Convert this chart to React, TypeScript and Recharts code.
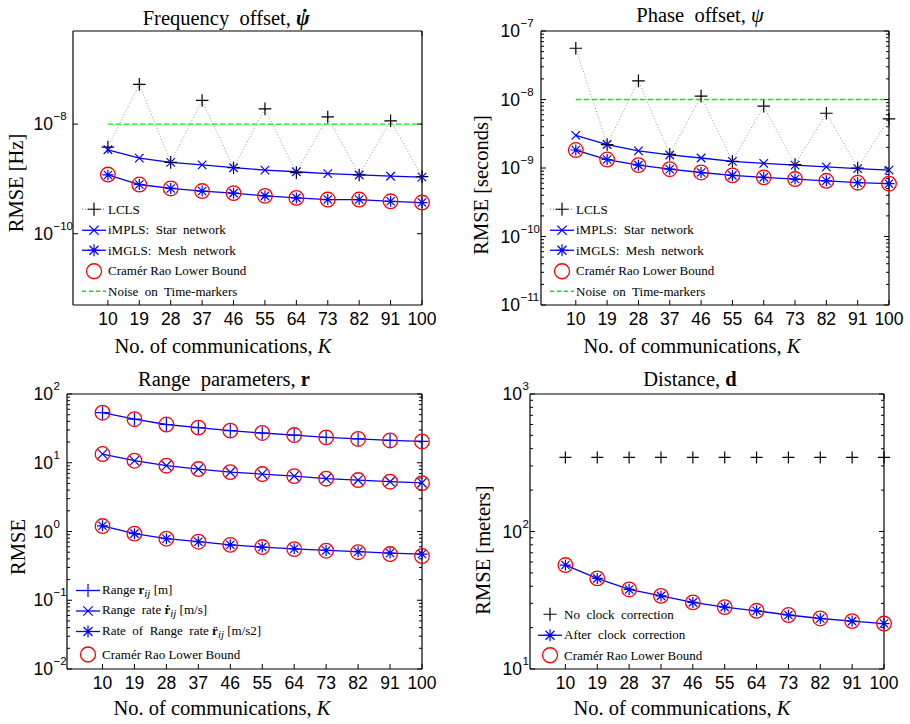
import React from 'react';
import { ComposedChart, Line, XAxis, YAxis, Legend } from 'recharts';

const serif = '"Liberation Serif", "Times New Roman", serif';
const sans = '"Liberation Sans", Arial, sans-serif';

// x categories: number of communications K
const K = [10, 19, 28, 37, 46, 55, 64, 73, 82, 91, 100];

// Frequency offset
const freqLCLS = [3.8e-9, 5.3e-8, 2.0e-9, 2.7e-8, 1.6e-9, 1.9e-8, 1.3e-9, 1.35e-8, 1.18e-9, 1.15e-8, 1.1e-9];
const freqStar = [3.4e-9, 2.4e-9, 2.0e-9, 1.8e-9, 1.6e-9, 1.45e-9, 1.35e-9, 1.25e-9, 1.18e-9, 1.12e-9, 1.08e-9];
const freqMesh = [1.18e-9, 7.9e-10, 6.7e-10, 6.0e-10, 5.5e-10, 4.9e-10, 4.5e-10, 4.2e-10, 4.2e-10, 3.9e-10, 3.7e-10];
const freqCRLB = [1.2e-9, 7.9e-10, 6.7e-10, 6.0e-10, 5.5e-10, 4.9e-10, 4.5e-10, 4.2e-10, 4.2e-10, 3.9e-10, 3.7e-10];
const freqNoise = [1e-8, 1e-8, 1e-8, 1e-8, 1e-8, 1e-8, 1e-8, 1e-8, 1e-8, 1e-8, 1e-8];

// Phase offset
const phaseLCLS = [5.6e-8, 2.2e-9, 1.87e-8, 1.58e-9, 1.12e-8, 1.25e-9, 8.0e-9, 1.12e-9, 6.3e-9, 1.0e-9, 5.2e-9];
const phaseStar = [3.0e-9, 2.2e-9, 1.78e-9, 1.55e-9, 1.4e-9, 1.25e-9, 1.17e-9, 1.1e-9, 1.04e-9, 9.8e-10, 9.3e-10];
const phaseMesh = [1.83e-9, 1.33e-9, 1.1e-9, 9.6e-10, 8.6e-10, 7.8e-10, 7.3e-10, 6.9e-10, 6.5e-10, 6.1e-10, 5.9e-10];
const phaseCRLB = [1.83e-9, 1.33e-9, 1.1e-9, 9.6e-10, 8.6e-10, 7.8e-10, 7.3e-10, 6.9e-10, 6.5e-10, 6.1e-10, 5.9e-10];
const phaseNoise = [1e-8, 1e-8, 1e-8, 1e-8, 1e-8, 1e-8, 1e-8, 1e-8, 1e-8, 1e-8, 1e-8];

// Range parameters
const rangeR = [53.5, 43, 36, 32.4, 29.3, 27.1, 25.3, 23.4, 22.2, 21.1, 20.4];
const rangeRdot = [13.4, 10.7, 9.06, 8.1, 7.3, 6.85, 6.4, 5.86, 5.6, 5.3, 5.1];
const rangeRddot = [1.21, 0.93, 0.785, 0.71, 0.64, 0.594, 0.56, 0.53, 0.508, 0.486, 0.47];
const crlbR = [53.5, 43, 36, 32.4, 29.3, 27.1, 25.3, 23.4, 22.2, 21.1, 20.4];
const crlbRdot = [13.4, 10.7, 9.06, 8.1, 7.3, 6.85, 6.4, 5.86, 5.6, 5.3, 5.05];
const crlbRddot = [1.2, 0.93, 0.785, 0.71, 0.64, 0.594, 0.555, 0.525, 0.5, 0.47, 0.44];

// Distance
const distNoCorr = [346, 346, 346, 346, 346, 346, 346, 346, 346, 346, 346];
const distAfter = [57, 45.6, 37.9, 34, 30.5, 28.2, 26.5, 24.7, 23.3, 22.3, 21.4];
const distCRLB = [57, 45.6, 37.9, 34, 30.5, 28.2, 26.5, 24.7, 23.3, 22.3, 21.4];

// y tick values
const freqTicks = [1e-10, 1e-8];
const phaseTicks = [1e-11, 1e-10, 1e-9, 1e-8, 1e-7];
const rangeTicks = [1e-2, 1e-1, 1, 10, 100];
const distTicks = [10, 100, 1000];

const minorOf = (majors: number[]) =>
  majors.slice(0, -1).flatMap((m) => [2, 3, 4, 5, 6, 7, 8, 9].map((f) => m * f));

const BLUE = '#0000ff';
const RED = '#ff0000';
const BLACK = '#000000';
const GRAY = '#999999';
const GREEN = '#00ee00';

type GlyphKind = 'plus' | 'x' | 'star' | 'circle';

function Glyph({ kind, cx, cy, color, s }: { kind: GlyphKind; cx: number; cy: number; color: string; s: number }) {
  const sw = 1.2;
  if (kind === 'circle') return <circle cx={cx} cy={cy} r={s} stroke={color} strokeWidth={1.3} fill="none" />;
  const d = s * 0.75;
  const plus = `M${cx - s},${cy}H${cx + s}M${cx},${cy - s}V${cy + s}`;
  const cross = `M${cx - d},${cy - d}L${cx + d},${cy + d}M${cx - d},${cy + d}L${cx + d},${cy - d}`;
  const path = kind === 'plus' ? plus : kind === 'x' ? `M${cx - s * 0.85},${cy - s * 0.85}L${cx + s * 0.85},${cy + s * 0.85}M${cx - s * 0.85},${cy + s * 0.85}L${cx + s * 0.85},${cy - s * 0.85}` : plus + cross;
  return <path d={path} stroke={color} strokeWidth={sw} fill="none" />;
}

type Series = {
  key: string;
  values: number[];
  stroke: string;
  dash?: string;
  width?: number;
  glyph?: GlyphKind;
  glyphColor?: string;
  size?: number;
};

type LegendItem = {
  label: React.ReactNode;
  stroke?: string;
  dash?: string;
  glyph?: GlyphKind;
  glyphColor?: string;
  size?: number;
  h: number;
};

type PanelCfg = {
  left: number;
  top: number;
  margin: { top: number; right: number; bottom: number; left: number };
  yWidth: number;
  domain: [number, number];
  majors: number[];
  minors: number[];
  baseGap: number;
  series: Series[];
  legend: LegendItem[];
  legendPos: { left: number; top: number };
  title: () => React.ReactNode;
  yLabel: string;
  yLabelPos: [number, number];
  xLabelPos: [number, number];
};

const titleProps = { fontFamily: serif, fontSize: 20.5, fill: BLACK, style: { whiteSpace: 'pre' as const } };

const XLabelText = () => (
  <>
    No. of communications, <tspan fontStyle="italic">K</tspan>
  </>
);

function LegendBox({ items }: { items: LegendItem[] }) {
  return (
    <div style={{ fontFamily: serif, fontSize: 13, color: '#000', lineHeight: 1 }}>
      {items.map((it, i) => (
        <div key={i} style={{ display: 'flex', alignItems: 'center', height: it.h, whiteSpace: 'pre' }}>
          <svg width={28} height={it.h} style={{ display: 'block', flex: 'none' }}>
            {it.stroke && (
              <line x1={2} x2={26} y1={it.h / 2} y2={it.h / 2} stroke={it.stroke} strokeWidth={1.3} strokeDasharray={it.dash} />
            )}
            {it.glyph && <Glyph kind={it.glyph} cx={14} cy={it.h / 2} color={it.glyphColor || BLUE} s={it.size || 6} />}
          </svg>
          <span>{it.label}</span>
        </div>
      ))}
    </div>
  );
}

function Panel({ cfg }: { cfg: PanelCfg }) {
  const rows = K.map((k, i) => {
    const r: any = { k };
    cfg.series.forEach((s) => {
      r[s.key] = s.values[i];
    });
    return r;
  });
  const yTicks = [...cfg.majors, ...cfg.minors];
  const isMajor = (v: number) => cfg.majors.includes(v);
  const expOf = (v: number) => {
    const e = Math.round(Math.log10(v));
    return e < 0 ? '\u2212' + -e : String(e);
  };

  const leftTick = (p: any) => {
    const { x, y, payload } = p;
    const v = payload.value;
    const maj = isMajor(v);
    return (
      <g>
        <line x1={x} x2={x + (maj ? 5 : 3)} y1={y} y2={y} stroke={BLACK} strokeWidth={1} />
        {maj && (
          <text fontFamily={sans} fill={BLACK}>
            <tspan x={x - cfg.baseGap} y={y + 6} textAnchor="end" fontSize={17.5}>
              10
            </tspan>
            <tspan x={x - cfg.baseGap + 0.5} y={y - 4} fontSize={11.5}>
              {expOf(v)}
            </tspan>
          </text>
        )}
      </g>
    );
  };
  const rightTick = (p: any) => {
    const { x, y, payload } = p;
    const maj = isMajor(payload.value);
    return <line x1={x} x2={x - (maj ? 5 : 3)} y1={y} y2={y} stroke={BLACK} strokeWidth={1} />;
  };
  const bottomTick = (p: any) => {
    const { x, y, payload } = p;
    return (
      <g>
        <line x1={x} x2={x} y1={y} y2={y - 5} stroke={BLACK} strokeWidth={1} />
        <text x={x} y={y + 20} textAnchor="middle" fontFamily={sans} fontSize={17.5} fill={BLACK}>
          {payload.value}
        </text>
      </g>
    );
  };
  const topTick = (p: any) => {
    const { x, y } = p;
    return <line x1={x} x2={x} y1={y} y2={y + 5} stroke={BLACK} strokeWidth={1} />;
  };

  const axisLine = { stroke: BLACK, strokeWidth: 1.2 };
  const m = cfg.margin;

  return (
    <div style={{ position: 'absolute', left: cfg.left, top: cfg.top }}>
      <ComposedChart
        width={455}
        height={362}
        data={rows}
        margin={{ top: m.top - 1, right: m.right - 1, bottom: m.bottom - 1, left: m.left }}
      >
        <XAxis
          dataKey="k"
          type="number"
          domain={[0, 100]}
          ticks={K}
          interval={0}
          height={1}
          tickSize={0}
          tickMargin={0}
          tickLine={false}
          axisLine={axisLine}
          tick={bottomTick}
          label={{
            content: () => (
              <text
                x={cfg.xLabelPos[0]}
                y={cfg.xLabelPos[1]}
                textAnchor="middle"
                fontFamily={serif}
                fontSize={20.5}
                fill={BLACK}
              >
                <XLabelText />
              </text>
            ),
          }}
        />
        <XAxis
          xAxisId="t"
          orientation="top"
          type="number"
          domain={[0, 100]}
          ticks={K}
          interval={0}
          height={1}
          tickSize={0}
          tickMargin={0}
          tickLine={false}
          axisLine={axisLine}
          tick={topTick}
          label={{ content: () => <g>{cfg.title()}</g> }}
        />
        <YAxis
          type="number"
          scale="log"
          domain={cfg.domain}
          allowDataOverflow
          ticks={yTicks}
          interval={0}
          width={cfg.yWidth}
          tickSize={0}
          tickMargin={0}
          tickLine={false}
          axisLine={axisLine}
          tick={leftTick}
          label={{
            content: () => (
              <text
                transform={`translate(${cfg.yLabelPos[0]},${cfg.yLabelPos[1]}) rotate(-90)`}
                textAnchor="middle"
                fontFamily={serif}
                fontSize={20.5}
                fill={BLACK}
                style={{ whiteSpace: 'pre' }}
              >
                {cfg.yLabel}
              </text>
            ),
          }}
        />
        <YAxis
          yAxisId="r"
          orientation="right"
          type="number"
          scale="log"
          domain={cfg.domain}
          allowDataOverflow
          ticks={yTicks}
          interval={0}
          width={1}
          tickSize={0}
          tickMargin={0}
          tickLine={false}
          axisLine={axisLine}
          tick={rightTick}
        />
        {cfg.series.map((s) => (
          <Line
            key={s.key}
            dataKey={s.key}
            type="linear"
            stroke={s.stroke}
            strokeWidth={s.width ?? 1.3}
            strokeDasharray={s.dash}
            isAnimationActive={false}
            activeDot={false}
            dot={(p: any) =>
              s.glyph && p.cx != null && p.cy != null ? (
                <Glyph key={`${s.key}-${p.index}`} kind={s.glyph} cx={p.cx} cy={p.cy} color={s.glyphColor || s.stroke} s={s.size || 6} />
              ) : (
                <g key={`${s.key}-${p.index}`} />
              )
            }
          />
        ))}
        <Legend
          layout="vertical"
          align="center"
          verticalAlign="middle"
          wrapperStyle={{ left: cfg.legendPos.left, top: cfg.legendPos.top, width: 240 }}
          content={() => <LegendBox items={cfg.legend} />}
        />
      </ComposedChart>
    </div>
  );
}

const lclsLegend = (h: number): LegendItem => ({ label: 'LCLS', stroke: GRAY, dash: '1 2', glyph: 'plus', glyphColor: BLACK, size: 6.5, h });
const clockLegend = (h: number): LegendItem[] => [
  lclsLegend(h),
  { label: 'iMPLS:  Star  network', stroke: BLUE, glyph: 'x', glyphColor: BLUE, size: 5.5, h },
  { label: 'iMGLS:  Mesh  network', stroke: BLUE, glyph: 'star', glyphColor: BLUE, size: 6, h },
  { label: 'Cramér Rao Lower Bound', glyph: 'circle', glyphColor: RED, size: 7.5, h },
  { label: 'Noise  on  Time-markers', stroke: GREEN, dash: '4 3', h },
];

const ij = (
  <sub style={{ fontStyle: 'italic', fontSize: 11, verticalAlign: '-3px' }}>ij</sub>
);

const panels: PanelCfg[] = [
  {
    left: 0,
    top: 0,
    margin: { top: 31, right: 33, bottom: 57, left: 0 },
    yWidth: 73,
    domain: [5e-12, 5e-7],
    majors: freqTicks,
    minors: [],
    baseGap: 20,
    series: [
      { key: 'lcls', values: freqLCLS, stroke: GRAY, dash: '1 2', width: 1, glyph: 'plus', glyphColor: BLACK, size: 6.3 },
      { key: 'noise', values: freqNoise, stroke: GREEN, dash: '5 3', width: 1.3 },
      { key: 'star', values: freqStar, stroke: BLUE, glyph: 'x', size: 5 },
      { key: 'crlb', values: freqCRLB, stroke: 'none', glyph: 'circle', glyphColor: RED, size: 7.3 },
      { key: 'mesh', values: freqMesh, stroke: BLUE, glyph: 'star', size: 5.5 },
    ],
    legend: clockLegend(20.5),
    legendPos: { left: 80, top: 199 },
    // psi with an overdot (time derivative)
    title: () => (
      <>
        <text x={296} y={25} textAnchor="end" {...titleProps}>
          {'Frequency  offset, '}
        </text>
        <text x={296} y={25} fontStyle="italic" fontWeight="bold" {...titleProps}>
          ψ
        </text>
        <circle cx={305} cy={10.5} r={1.7} fill={BLACK} />
      </>
    ),
    yLabel: 'RMSE [Hz]',
    yLabelPos: [23, 183],
    xLabelPos: [223, 353],
  },
  {
    left: 455,
    top: 0,
    margin: { top: 31, right: 21, bottom: 57, left: 0 },
    yWidth: 86,
    domain: [1e-11, 1e-7],
    majors: phaseTicks,
    minors: minorOf(phaseTicks),
    baseGap: 21,
    series: [
      { key: 'lcls', values: phaseLCLS, stroke: GRAY, dash: '1 2', width: 1, glyph: 'plus', glyphColor: BLACK, size: 6.3 },
      { key: 'noise', values: phaseNoise, stroke: GREEN, dash: '5 3', width: 1.3 },
      { key: 'star', values: phaseStar, stroke: BLUE, glyph: 'x', size: 5 },
      { key: 'crlb', values: phaseCRLB, stroke: 'none', glyph: 'circle', glyphColor: RED, size: 7.3 },
      { key: 'mesh', values: phaseMesh, stroke: BLUE, glyph: 'star', size: 5.5 },
    ],
    legend: clockLegend(20.5),
    legendPos: { left: 93, top: 199 },
    title: () => (
      <text x={245} y={22} textAnchor="middle" {...titleProps}>
        {'Phase  offset, '}
        <tspan fontStyle="italic">ψ</tspan>
      </text>
    ),
    yLabel: 'RMSE [seconds]',
    yLabelPos: [33, 185],
    xLabelPos: [237, 353],
  },
  {
    left: 0,
    top: 362,
    margin: { top: 32, right: 33, bottom: 55, left: 0 },
    yWidth: 67,
    domain: [1e-2, 1e2],
    majors: rangeTicks,
    minors: minorOf(rangeTicks),
    baseGap: 14,
    series: [
      { key: 'r', values: rangeR, stroke: BLUE, glyph: 'plus', size: 6.5 },
      { key: 'rd', values: rangeRdot, stroke: BLUE, glyph: 'x', size: 5.5 },
      { key: 'rdd', values: rangeRddot, stroke: BLUE, glyph: 'star', size: 5.5 },
      { key: 'c1', values: crlbR, stroke: 'none', glyph: 'circle', glyphColor: RED, size: 7.3 },
      { key: 'c2', values: crlbRdot, stroke: 'none', glyph: 'circle', glyphColor: RED, size: 7.3 },
      { key: 'c3', values: crlbRddot, stroke: 'none', glyph: 'circle', glyphColor: RED, size: 7.3 },
    ],
    legend: [
      {
        label: (
          <>
            {'Range '}
            <b>r</b>
            {ij}
            {' [m]'}
          </>
        ),
        stroke: BLUE,
        glyph: 'plus',
        size: 6.5,
        h: 21,
      },
      {
        label: (
          <>
            {'Range  rate '}
            <b>ṙ</b>
            {ij}
            {' [m/s]'}
          </>
        ),
        stroke: BLUE,
        glyph: 'x',
        size: 5.5,
        h: 20,
      },
      {
        label: (
          <>
            {'Rate  of  Range  rate '}
            <b>r̈</b>
            {ij}
            {' [m/s2]'}
          </>
        ),
        stroke: BLUE,
        glyph: 'star',
        size: 6,
        h: 21,
      },
      { label: 'Cramér Rao Lower Bound', glyph: 'circle', glyphColor: RED, size: 7.5, h: 25 },
    ],
    legendPos: { left: 74, top: 218 },
    title: () => (
      <text x={224} y={24} textAnchor="middle" {...titleProps}>
        {'Range  parameters, '}
        <tspan fontWeight="bold">r</tspan>
      </text>
    ),
    yLabel: 'RMSE',
    yLabelPos: [25, 185],
    xLabelPos: [222, 353],
  },
  {
    left: 455,
    top: 362,
    margin: { top: 32, right: 26, bottom: 55, left: 0 },
    yWidth: 75,
    domain: [10, 1000],
    majors: distTicks,
    minors: minorOf(distTicks),
    baseGap: 8,
    series: [
      { key: 'nc', values: distNoCorr, stroke: 'none', glyph: 'plus', glyphColor: BLACK, size: 6 },
      { key: 'crlb', values: distCRLB, stroke: 'none', glyph: 'circle', glyphColor: RED, size: 7.3 },
      { key: 'ac', values: distAfter, stroke: BLUE, glyph: 'star', size: 5.5 },
    ],
    legend: [
      { label: 'No  clock  correction', glyph: 'plus', glyphColor: BLACK, size: 6.5, h: 20.5 },
      { label: 'After  clock  correction', stroke: BLUE, glyph: 'star', size: 6, h: 20.5 },
      { label: 'Cramér Rao Lower Bound', glyph: 'circle', glyphColor: RED, size: 7.5, h: 20.5 },
    ],
    legendPos: { left: 81, top: 242 },
    title: () => (
      <text x={235} y={24} textAnchor="middle" {...titleProps}>
        {'Distance, '}
        <tspan fontWeight="bold">d</tspan>
      </text>
    ),
    yLabel: 'RMSE [meters]',
    yLabelPos: [35, 188],
    xLabelPos: [227, 353],
  },
];

export default function App() {
  return (
    <div style={{ position: 'absolute', left: 0, top: 0, width: 910, height: 724, background: '#fff' }}>
      {panels.map((p, i) => (
        <Panel key={i} cfg={p} />
      ))}
    </div>
  );
}
